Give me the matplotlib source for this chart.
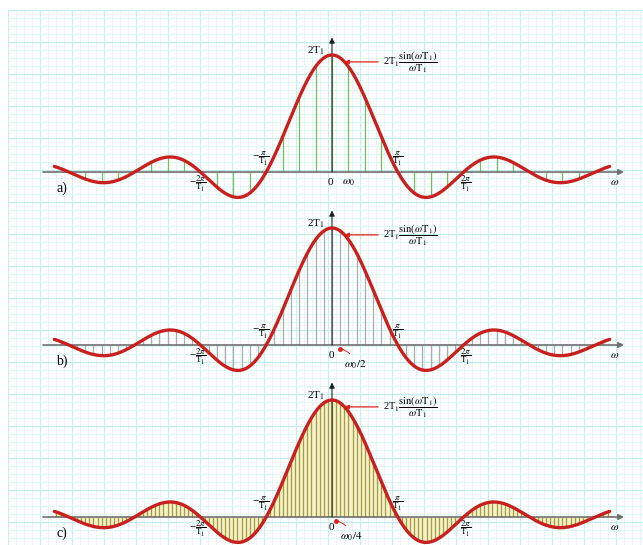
import numpy as np
import matplotlib.pyplot as plt

# spectrum 2T1 sin(wT1)/(wT1), sampled at k*w0 lines
T1 = 1.0
w0 = np.pi / (4 * T1)
panel_names = ['a)', 'b)', 'c)']
step_div = [1, 2, 4]                 # w0, w0/2, w0/4
step_names = [r'$\omega_0$', r'$\omega_0/2$', r'$\omega_0/4$']
w_max = 4.22 * np.pi / T1            # curve extent
stem_colors = ['#74bc62', '#ababab', '#a39b42']

W, H = 643, 545
x0_px, px_per_pi, amp_px = 332, 65.8, 117
axis_px = [172, 345, 517]

plt.rcParams['font.family'] = ['Liberation Serif', 'DejaVu Serif']
plt.rcParams['mathtext.fontset'] = 'stix'

fig = plt.figure(figsize=(W / 100, H / 100), dpi=100)
fig.patch.set_facecolor('white')

# graph paper background
bg = fig.add_axes([8 / W, 0, 1 - 8 / W, 1 - 10 / H])
bg.set_xlim(8, W)
bg.set_ylim(H, 10)
for v in np.arange(8, W, 8):
    major = ((v - 8) // 8) % 4 == 0
    bg.axvline(v, color='#c4eeee' if major else '#e0f7f7', lw=0.9 if major else 0.7)
for v in np.arange(10, H, 8):
    major = ((v - 10) // 8) % 4 == 0
    bg.axhline(v, color='#c4eeee' if major else '#e0f7f7', lw=0.9 if major else 0.7)
bg.axis('off')


def sinc(w):
    return np.sinc(w * T1 / np.pi)


ws = np.linspace(-w_max, w_max, 1200)
xl = ((0 - x0_px) / px_per_pi * np.pi, (W - x0_px) / px_per_pi * np.pi)

for i, ay in enumerate(axis_px):
    top, bot = ay - 170, ay + 30
    ax = fig.add_axes([0, 1 - bot / H, 1, (bot - top) / H])
    ax.patch.set_alpha(0)
    ax.set_xlim(*xl)
    ax.set_ylim(-(bot - ay) / amp_px, (ay - top) / amp_px)
    ax.axis('off')

    d = w0 / step_div[i]
    kmax = int(w_max / d)
    wk = np.arange(-kmax, kmax + 1) * d
    if i == 2:
        ax.fill_between(ws, 0, sinc(ws), color='#f5f1c8', lw=0, zorder=1)
    ax.vlines(wk, 0, sinc(wk), color=stem_colors[i], lw=0.9, zorder=2)

    # axes
    ax.annotate('', xy=(13.95, 0), xytext=(-13.8, 0),
                arrowprops=dict(arrowstyle='-|>', color='#707070', lw=1.2,
                                mutation_scale=8, shrinkA=0, shrinkB=0), zorder=3)
    ax.annotate('', xy=(0, 1.15), xytext=(0, 0),
                arrowprops=dict(arrowstyle='-|>', color='#202020', lw=0.8,
                                mutation_scale=8, shrinkA=0, shrinkB=0), zorder=3)

    ax.plot(ws, 2 * T1 * sinc(ws) / 2, color='#c8201e', lw=2.4, zorder=4,
            solid_capstyle='round')

    fs = 8
    ax.text(-12.9, -0.14, panel_names[i], fontsize=10, ha='center', va='center')
    ax.text(13.5, -0.09, r'$\omega$', fontsize=fs, ha='center', va='center')
    ax.text(-0.76, 1.04, r'2T$_1$', fontsize=fs, ha='center', va='center')
    ax.text(-np.pi - 0.25, 0.11, r'$-\dfrac{\pi}{\mathrm{T}_1}$', fontsize=6.5,
            ha='center', va='center')
    ax.text(np.pi, 0.11, r'$\dfrac{\pi}{\mathrm{T}_1}$', fontsize=6.5,
            ha='center', va='center')
    ax.text(-2 * np.pi - 0.15, -0.1, r'$-\dfrac{2\pi}{\mathrm{T}_1}$', fontsize=6.5,
            ha='center', va='center')
    ax.text(2 * np.pi + 0.1, -0.1, r'$\dfrac{2\pi}{\mathrm{T}_1}$', fontsize=6.5,
            ha='center', va='center')

    # formula with pointer
    yp = sinc(0.6)
    ax.annotate('', xy=(0.6, yp), xytext=(2.2, yp),
                arrowprops=dict(arrowstyle='-|>', color='#e02020', lw=0.9,
                                mutation_scale=6, shrinkA=0, shrinkB=0), zorder=5)
    ax.text(2.45, yp, r'2T$_1\dfrac{\mathrm{sin}(\omega \mathrm{T}_1)}{\omega \mathrm{T}_1}$',
            fontsize=7.5, ha='left', va='center')

    if i == 0:
        ax.text(-0.1, -0.09, '0', fontsize=fs, ha='center', va='center')
        ax.text(d + 0.0, -0.09, step_names[i], fontsize=fs, ha='center', va='center')
    else:
        ax.text(-0.05, -0.09, '0', fontsize=fs, ha='center', va='center')
        ax.plot([d], [-0.03], 'o', color='#e02020', ms=2.5, zorder=5)
        ax.annotate(step_names[i], xy=(d, -0.03), xytext=(d + 0.2, -0.17),
                    fontsize=fs, ha='left', va='center',
                    arrowprops=dict(arrowstyle='-', color='#e02020', lw=0.7,
                                    connectionstyle='arc3,rad=0.3',
                                    shrinkA=2, shrinkB=0))

fig.savefig('out.png', dpi=100)
